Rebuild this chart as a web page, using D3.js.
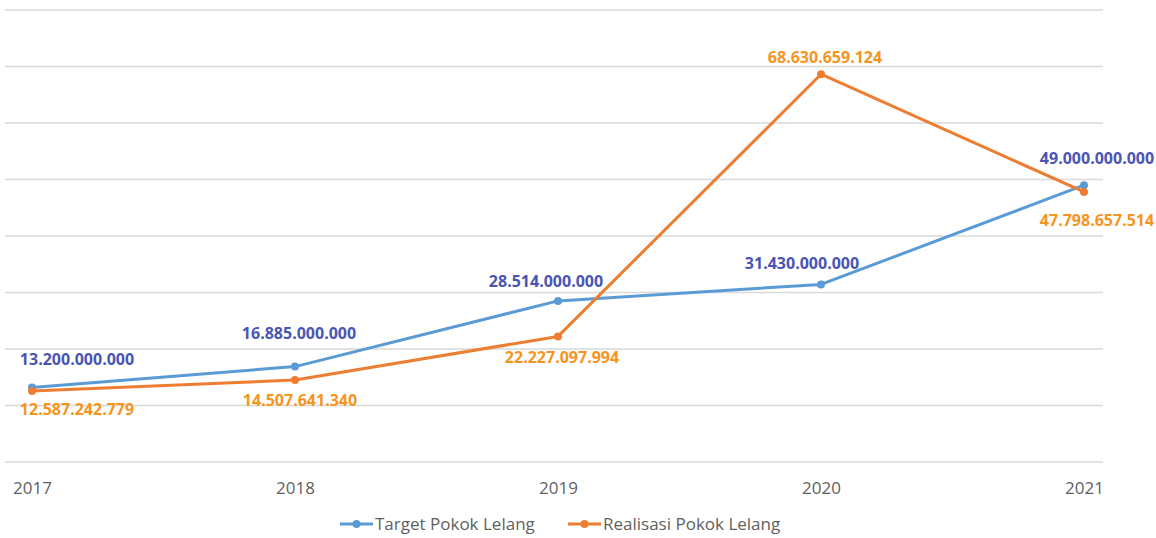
<!DOCTYPE html>
<html>
<head>
<meta charset="utf-8">
<script src="https://cdn.jsdelivr.net/npm/d3@7"></script>
<style>
  body { margin: 0; background: #fff; font-family: "Open Sans", sans-serif; }
</style>
</head>
<body>
<div id="container"><svg></svg></div>
<script>
let width = 1156;
let height = 538;

let years = ['2017', '2018', '2019', '2020', '2021'];
let target = [13200000000, 16885000000, 28514000000, 31430000000, 49000000000];
let realisasi = [12587242779, 14507641340, 22227097994, 68630659124, 47798657514];
let yTicks = [0, 1e10, 2e10, 3e10, 4e10, 5e10, 6e10, 7e10, 8e10];

// label nudges (px) relative to each point, label centre
let targetNudge = [[45, -28], [4, -33], [-12, -19], [-19, -21], [13, -27]];
let realNudge = [[45, 19], [5, 20], [4, 21], [4, -17], [13, 28]];

let blue = '#5b9bd5', orange = '#ed7d31';
let blueText = '#4a55b3', orangeText = '#f7941d';

let fmt = v => d3.format(',')(v).replace(/,/g, '.');

let svg = d3.select('svg').attr('width', width).attr('height', height);

let x = d3.scalePoint().domain(years).range([32, 1084]);
let y = d3.scaleLinear().domain([0, 8e10]).range([462, 10]);

// gridlines
svg.append('g')
    .selectAll('line')
    .data(yTicks)
    .enter().append('line')
    .attr('x1', 5).attr('x2', 1103)
    .attr('y1', d => y(d)).attr('y2', d => y(d))
    .attr('stroke', '#d9d9d9')
    .attr('stroke-width', 1.5);

// x axis labels
let axis_x = d3.axisBottom(x).tickSize(0).tickPadding(0);
let gx = svg.append('g')
    .attr('transform', `translate(0, ${488})`)
    .call(axis_x);
gx.select('.domain').remove();
gx.selectAll('text')
    .attr('font-family', '"Open Sans", sans-serif')
    .attr('font-size', '17px')
    .attr('fill', '#5f5f5f')
    .attr('dy', '0.35em');

let line = d3.line().x((d, i) => x(years[i])).y(d => y(d));

function drawSeries(vals, color) {
    svg.append('path')
        .datum(vals)
        .attr('d', line)
        .attr('fill', 'none')
        .attr('stroke', color)
        .attr('stroke-width', 3)
        .attr('stroke-linejoin', 'round');
    svg.append('g')
        .selectAll('circle')
        .data(vals)
        .enter().append('circle')
        .attr('cx', (d, i) => x(years[i]))
        .attr('cy', d => y(d))
        .attr('r', 4)
        .attr('fill', color);
}

drawSeries(target, blue);
drawSeries(realisasi, orange);

function drawLabels(vals, nudge, color) {
    svg.append('g')
        .selectAll('text')
        .data(vals)
        .enter().append('text')
        .attr('font-family', '"Open Sans", sans-serif')
        .attr('font-weight', 'bold')
        .attr('font-size', '16px')
        .attr('fill', color)
        .attr('text-anchor', 'middle')
        .attr('x', (d, i) => x(years[i]) + nudge[i][0])
        .attr('y', (d, i) => y(d) + nudge[i][1])
        .attr('dy', '0.35em')
        .text(d => fmt(d));
}

drawLabels(target, targetNudge, blueText);
drawLabels(realisasi, realNudge, orangeText);

// legend
let legend = [['Target Pokok Lelang', blue, 340], ['Realisasi Pokok Lelang', orange, 568]];
let lg = svg.append('g').selectAll('g').data(legend).enter().append('g')
    .attr('transform', d => `translate(${d[2]}, 524)`);
lg.append('line')
    .attr('x1', 0).attr('x2', 33).attr('y1', 0).attr('y2', 0)
    .attr('stroke', d => d[1]).attr('stroke-width', 3);
lg.append('circle').attr('cx', 16.5).attr('cy', 0).attr('r', 4).attr('fill', d => d[1]);
lg.append('text')
    .attr('x', 35).attr('y', 0).attr('dy', '0.35em')
    .attr('font-family', '"Open Sans", sans-serif')
    .attr('font-size', '17px')
    .attr('fill', '#5f5f5f')
    .text(d => d[0]);
</script>
</body>
</html>
